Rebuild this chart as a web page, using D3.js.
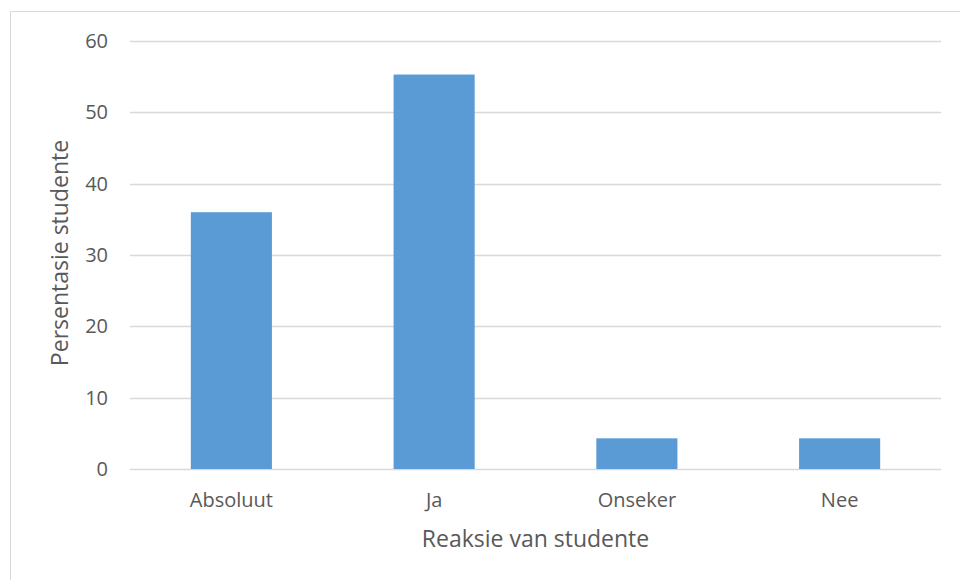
<!DOCTYPE html>
<html><head><meta charset="utf-8">
<script src="https://cdn.jsdelivr.net/npm/d3@7"></script>
<style>body{margin:0;background:#fff;} svg{display:block;} text{font-family:"Open Sans",sans-serif;fill:#595959;}</style>
</head><body>
<svg id="chart" width="960" height="580"></svg>
<script>
const categories = ["Absoluut", "Ja", "Onseker", "Nee"];
const values = [36.0, 55.3, 4.3, 4.3];
const yTicks = [0, 10, 20, 30, 40, 50, 60];
const xTitle = "Reaksie van studente";
const yTitle = "Persentasie studente";

const svg = d3.select("#chart");
const W = 960, H = 580;
const m = {left: 130, right: 19, top: 41, bottom: 111};
const x0 = m.left, x1 = W - m.right, y0 = H - m.bottom, y1 = m.top;

svg.append("rect").attr("x", 10.5).attr("y", 11.5).attr("width", 1000).attr("height", 1000)
  .attr("fill", "#fff").attr("stroke", "#d9d9d9").attr("stroke-width", 1);

const x = d3.scaleBand().domain(categories).range([x0, x1]).paddingInner(0.6).paddingOuter(0.3);
const y = d3.scaleLinear().domain([0, 60]).range([y0, y1]);

const g = svg.append("g");
g.selectAll("line.grid").data(yTicks).join("line").attr("class", "grid")
  .attr("x1", x0).attr("x2", x1)
  .attr("y1", d => Math.round(y(d)) + 0.5).attr("y2", d => Math.round(y(d)) + 0.5)
  .attr("stroke", "#d9d9d9").attr("stroke-width", 1.3);

g.selectAll("rect.bar").data(values).join("rect").attr("class", "bar")
  .attr("x", (d, i) => x(categories[i])).attr("width", x.bandwidth())
  .attr("y", d => y(d)).attr("height", d => y(0) - y(d))
  .attr("fill", "#5b9bd5");

// axes
const yAxis = d3.axisLeft(y).tickValues(yTicks).tickSize(0).tickPadding(22);
const ya = svg.append("g").attr("transform", `translate(${x0},0)`).call(yAxis);
ya.select(".domain").remove();
ya.selectAll("text").style("font-size", "20px").attr("fill", "#595959");

const xAxis = d3.axisBottom(x).tickSize(0).tickPadding(24);
const xa = svg.append("g").attr("transform", `translate(0,${y0})`).call(xAxis);
xa.select(".domain").remove();
xa.selectAll("text").style("font-size", "20px").attr("fill", "#595959");

svg.append("text").attr("x", (x0 + x1) / 2).attr("y", 547).attr("text-anchor", "middle")
  .style("font-size", "23px").text(xTitle);
svg.append("text").attr("transform", `translate(68,${(y0 + y1) / 2 - 2}) rotate(-90)`)
  .attr("text-anchor", "middle").style("font-size", "23px").text(yTitle);
</script>
</body></html>
